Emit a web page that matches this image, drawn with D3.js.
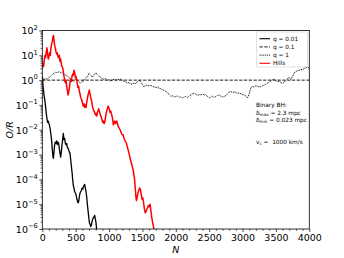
<!DOCTYPE html>
<html>
<head>
<meta charset="utf-8">
<script src="https://cdn.jsdelivr.net/npm/d3@7"></script>
<style>
body { margin: 0; background: #fff; }
text { font-family: "DejaVu Sans", sans-serif; }
</style>
</head>
<body>
<svg width="344" height="258"></svg>
<script>
// values; series given as log10(O/R)
var hillsN = [0,10,20,30,40,50,60,70,80,90,100,110,120,130,140,150,160,168,176,185,195,205,215,225,235,245,255,265,275,285,295,305,315,325,335,345,355,365,375,385,395,405,415,425,435,445,455,465,475,485,495,505,515,525,535,545,555,565,575,585,595,605,615,625,635,645,655,665,675,685,695,705,715,725,735,745,755,765,775,785,795,805,815,825,835,845,855,865,875,885,895,905,915,925,935,945,955,965,975,985,995,1005,1015,1025,1035,1045,1055,1065,1075,1085,1095,1105,1115,1125,1135,1145,1155,1165,1180,1195,1210,1225,1240,1255,1270,1285,1300,1315,1330,1345,1360,1372,1384,1394,1402,1410,1420,1432,1445,1458,1470,1482,1494,1506,1518,1530,1542,1554,1566,1578,1590,1602,1614,1626,1638,1650,1662,1674,1684];
var hillsExp = [0.5,0.7,0.55,0.85,1.0,0.9,1.15,1.3,1.05,0.85,0.95,1.1,1.0,1.3,1.45,1.55,1.75,1.8,1.6,1.4,1.3,1.15,1.05,1.1,0.95,0.9,1.0,0.75,0.85,0.65,0.55,0.5,0.35,0.15,0.0,-0.1,0.0,-0.25,-0.4,-0.6,-0.5,-0.3,-0.1,0.05,-0.05,0.15,0.25,0.2,0.4,0.3,0.1,0.15,0.0,-0.15,-0.3,-0.25,-0.45,-0.55,-0.7,-0.75,-0.85,-0.95,-1.05,-0.95,-1.1,-1.0,-1.1,-0.9,-0.75,-0.6,-0.5,-0.4,-0.55,-0.7,-0.8,-0.95,-1.1,-1.2,-1.25,-1.3,-1.4,-1.35,-1.45,-1.3,-1.25,-1.15,-1.25,-1.35,-1.45,-1.5,-1.6,-1.7,-1.65,-1.75,-1.7,-1.55,-1.35,-1.25,-1.15,-1.05,-1.1,-1.2,-1.3,-1.25,-1.35,-1.45,-1.6,-1.8,-1.7,-1.65,-1.75,-1.7,-1.65,-1.75,-1.85,-1.9,-1.95,-2.0,-2.1,-2.2,-2.2,-2.35,-2.45,-2.5,-2.65,-2.8,-2.95,-3.15,-3.3,-3.45,-3.6,-3.8,-4.05,-4.4,-4.7,-4.85,-4.75,-4.55,-4.45,-4.35,-4.4,-4.6,-4.8,-4.75,-4.95,-5.2,-5.35,-5.3,-5.2,-5.15,-5.05,-5.1,-5.0,-5.25,-5.5,-5.7,-5.85,-6.05,-6.3];

var q001N = [0,5,10,15,20,25,30,35,40,50,60,65,70,80,90,100,110,120,130,140,150,160,167,175,185,195,205,215,225,235,245,255,265,275,285,295,305,315,325,335,345,355,365,375,385,395,405,415,425,435,445,455,465,475,485,495,505,515,525,535,545,555,565,575,585,595,605,615,625,635,645,655,665,675,685,695,705,715,725,735,745,755,765,775,785,795,805,815,820];
var q001Exp = [0.15,0.1,-0.2,-0.35,-0.45,-0.6,-0.7,-0.75,-0.85,-1.1,-1.35,-1.45,-1.55,-1.7,-1.65,-1.75,-1.85,-2.0,-2.2,-2.45,-2.8,-3.1,-3.15,-2.9,-2.6,-2.5,-2.55,-2.45,-2.6,-2.5,-2.55,-2.75,-2.95,-3.1,-2.9,-2.6,-2.4,-2.15,-2.4,-2.35,-2.55,-2.6,-2.55,-2.7,-2.75,-2.8,-2.9,-2.95,-3.2,-3.45,-3.7,-4.0,-4.25,-4.35,-4.5,-4.55,-4.6,-4.75,-4.85,-4.95,-4.9,-4.7,-4.55,-4.5,-4.45,-4.35,-4.4,-4.3,-4.25,-4.2,-4.35,-4.5,-4.7,-5.0,-5.25,-5.5,-5.75,-5.8,-5.9,-5.85,-5.7,-5.6,-5.55,-5.5,-5.45,-5.6,-5.75,-6.05,-6.3];

var q01N = [0, 4000];
var q01Exp = [0, 0];

var q1N = [0,25,50,75,100,125,150,175,200,225,250,275,300,325,350,375,400,425,450,475,500,525,550,575,600,625,650,675,700,725,750,775,800,825,850,875,900,925,950,975,1000,1025,1050,1075,1100,1125,1150,1175,1200,1225,1250,1275,1300,1325,1350,1375,1400,1425,1450,1475,1500,1525,1550,1575,1600,1625,1650,1675,1700,1725,1750,1775,1800,1825,1850,1875,1900,1925,1950,1975,2000,2025,2050,2075,2100,2125,2150,2175,2200,2225,2250,2275,2300,2325,2350,2375,2400,2425,2450,2475,2500,2525,2550,2575,2600,2625,2650,2675,2700,2725,2750,2775,2800,2825,2850,2875,2900,2925,2950,2975,3000,3025,3050,3075,3100,3125,3150,3175,3200,3225,3250,3275,3300,3325,3350,3375,3400,3425,3450,3475,3500,3525,3550,3575,3600,3625,3650,3675,3700,3725,3750,3775,3800,3825,3850,3875,3900,3925,3950,3975,3990,4000];
var q1Exp = [0.0,0.02,0.06,0.04,0.1,0.17,0.22,0.28,0.32,0.3,0.34,0.31,0.28,0.25,0.2,0.17,0.1,0.04,-0.02,-0.05,0.05,0.02,-0.08,-0.12,-0.05,-0.02,0.08,0.15,0.27,0.2,0.12,0.22,0.3,0.22,0.15,0.12,0.05,0.03,0.06,0.0,0.02,-0.03,0.01,0.04,0.0,0.05,0.02,0.04,-0.02,-0.05,-0.08,-0.12,-0.1,-0.17,-0.15,-0.12,-0.14,-0.06,0.0,-0.08,-0.18,-0.27,-0.22,-0.2,-0.24,-0.2,-0.26,-0.27,-0.3,-0.28,-0.33,-0.35,-0.38,-0.42,-0.45,-0.5,-0.58,-0.65,-0.63,-0.68,-0.66,-0.64,-0.7,-0.67,-0.72,-0.68,-0.66,-0.7,-0.64,-0.6,-0.56,-0.52,-0.57,-0.62,-0.58,-0.6,-0.55,-0.6,-0.58,-0.66,-0.72,-0.68,-0.65,-0.7,-0.66,-0.62,-0.6,-0.65,-0.68,-0.66,-0.62,-0.55,-0.48,-0.46,-0.5,-0.47,-0.5,-0.53,-0.52,-0.55,-0.58,-0.6,-0.64,-0.72,-0.55,-0.3,-0.26,-0.28,-0.23,-0.25,-0.28,-0.26,-0.22,-0.2,-0.16,-0.12,-0.08,-0.03,0.02,0.04,-0.02,-0.06,-0.04,-0.1,-0.13,-0.08,0.0,0.06,0.12,0.03,0.15,0.3,0.35,0.38,0.4,0.43,0.42,0.47,0.5,0.52,0.5,0.42];

var xTicks = [0,500,1000,1500,2000,2500,3000,3500,4000];
var yTickExp = [-6,-5,-4,-3,-2,-1,0,1,2];
var legendLabels = ["q = 0.01", "q = 0.1", "q = 1", "Hills"];

var svg = d3.select("svg");
var pLeft = 42.3, pRight = 309.3, pTop = 30.5, pBottom = 229;

var x = d3.scaleLinear().domain([0, 4000]).range([pLeft, pRight]);
var y = d3.scaleLog().domain([1e-6, 1e2]).range([pBottom, pTop]);

svg.append("clipPath").attr("id", "plot")
  .append("rect").attr("x", pLeft).attr("y", pTop)
  .attr("width", pRight - pLeft).attr("height", pBottom - pTop);

function series(ns, es){
  return ns.map(function(n, i){ return [n, Math.pow(10, es[i])]; });
}
var line = d3.line()
    .x(function(d){ return x(d[0]); })
    .y(function(d){ return y(d[1]); });

var g = svg.append("g").attr("clip-path", "url(#plot)");
var styles = [
  {data: series(q001N, q001Exp), color: "#000", width: 1.3, dash: null},
  {data: series(q01N, q01Exp), color: "#000", width: 0.9, dash: "3.3,1.5"},
  {data: series(q1N, q1Exp), color: "#000", width: 1, dash: "1,0.9"},
  {data: series(hillsN, hillsExp), color: "#ff0000", width: 1.5, dash: null}
];
styles.forEach(function(s){
  g.append("path").datum(s.data)
    .attr("d", line)
    .attr("fill", "none")
    .attr("stroke", s.color)
    .attr("stroke-width", s.width)
    .attr("stroke-linejoin", "round")
    .attr("stroke-dasharray", s.dash);
});

// axes
var xAxis = svg.append("g").attr("transform", "translate(0," + pBottom + ")")
  .call(d3.axisBottom(x).tickValues(xTicks).tickFormat(d3.format("d"))
    .tickSize(3).tickPadding(2));
svg.append("g").attr("transform", "translate(0," + pBottom + ")")
  .call(d3.axisBottom(x)
    .tickValues(d3.range(0, 4001, 100).filter(function(v){ return v % 500; }))
    .tickSize(1.7).tickFormat(""));

var minorY = [];
yTickExp.slice(0, -1).forEach(function(e){
  for (var k = 2; k < 10; k++) minorY.push(k * Math.pow(10, e));
});
svg.append("g").attr("transform", "translate(" + pLeft + ",0)")
  .call(d3.axisLeft(y).tickValues(minorY).tickSize(1.7).tickFormat(""));
var yAxis = svg.append("g").attr("transform", "translate(" + pLeft + ",0)")
  .call(d3.axisLeft(y).tickValues(yTickExp.map(function(e){ return Math.pow(10, e); }))
    .tickSize(3).tickFormat(""));

svg.selectAll(".domain").remove();
svg.selectAll(".tick line").attr("stroke-width", 0.7);
xAxis.selectAll("text").attr("font-size", 9.5).attr("font-family", "DejaVu Sans").attr("fill", "#000");

yAxis.selectAll(".tick").each(function(d, i){
  var t = d3.select(this).append("text")
    .attr("x", -4.5).attr("y", 3.4)
    .attr("text-anchor", "end").attr("font-size", 9.5)
    .attr("font-family", "DejaVu Sans").attr("fill", "#000");
  t.append("tspan").text("10");
  t.append("tspan").attr("dy", -4.6).attr("font-size", 6.7)
    .text(String(yTickExp[i]).replace("-", "\u2212"));
});

svg.append("rect").attr("x", pLeft).attr("y", pTop)
  .attr("width", pRight - pLeft).attr("height", pBottom - pTop)
  .attr("fill", "none").attr("stroke", "#000").attr("stroke-width", 0.8);

svg.append("text").attr("x", (pLeft + pRight) / 2).attr("y", 252.5)
  .attr("text-anchor", "middle").attr("font-size", 9.5).attr("font-style", "italic")
  .text("N");
svg.append("text").attr("transform", "translate(12.7," + (pTop + pBottom) / 2 + ") rotate(-90)")
  .attr("text-anchor", "middle").attr("font-size", 9.5).attr("font-style", "italic")
  .text("O/R");

// legend
var lg = svg.append("g");
lg.append("rect").attr("x", 256.5).attr("y", 32).attr("width", 51).attr("height", 35)
  .attr("rx", 1.5).attr("fill", "#fff").attr("fill-opacity", 0.8)
  .attr("stroke", "#ccc").attr("stroke-width", 0.6);
legendLabels.forEach(function(name, i){
  var yy = 38.7 + i * 8.2;
  lg.append("line").attr("x1", 259.5).attr("x2", 270).attr("y1", yy).attr("y2", yy)
    .attr("stroke", styles[i].color).attr("stroke-width", Math.min(styles[i].width, 1.1))
    .attr("stroke-dasharray", styles[i].dash);
  lg.append("text").attr("x", 273).attr("y", yy + 2).attr("font-size", 5.8).text(name);
});

// annotation
var ann = svg.append("g").attr("font-size", 5.8);
ann.append("text").attr("x", 256).attr("y", 106.5).text("Binary BH:");
var t1 = ann.append("text").attr("x", 256).attr("y", 115);
t1.append("tspan").text("\u03b4");
t1.append("tspan").attr("dy", 1.3).attr("font-size", 4.2).text("max");
t1.append("tspan").attr("dy", -1.3).text(" = 2.3 mpc");
var t2 = ann.append("text").attr("x", 256).attr("y", 122);
t2.append("tspan").text("\u03b4");
t2.append("tspan").attr("dy", 1.3).attr("font-size", 4.2).text("min");
t2.append("tspan").attr("dy", -1.3).text(" = 0.023 mpc");
var t3 = ann.append("text").attr("x", 256).attr("y", 144).attr("xml:space", "preserve");
t3.append("tspan").text("v");
t3.append("tspan").attr("dy", 1.3).attr("font-size", 4.2).text("c");
t3.append("tspan").attr("dy", -1.3).text(" =  1000 km/s");
</script>
</body>
</html>
